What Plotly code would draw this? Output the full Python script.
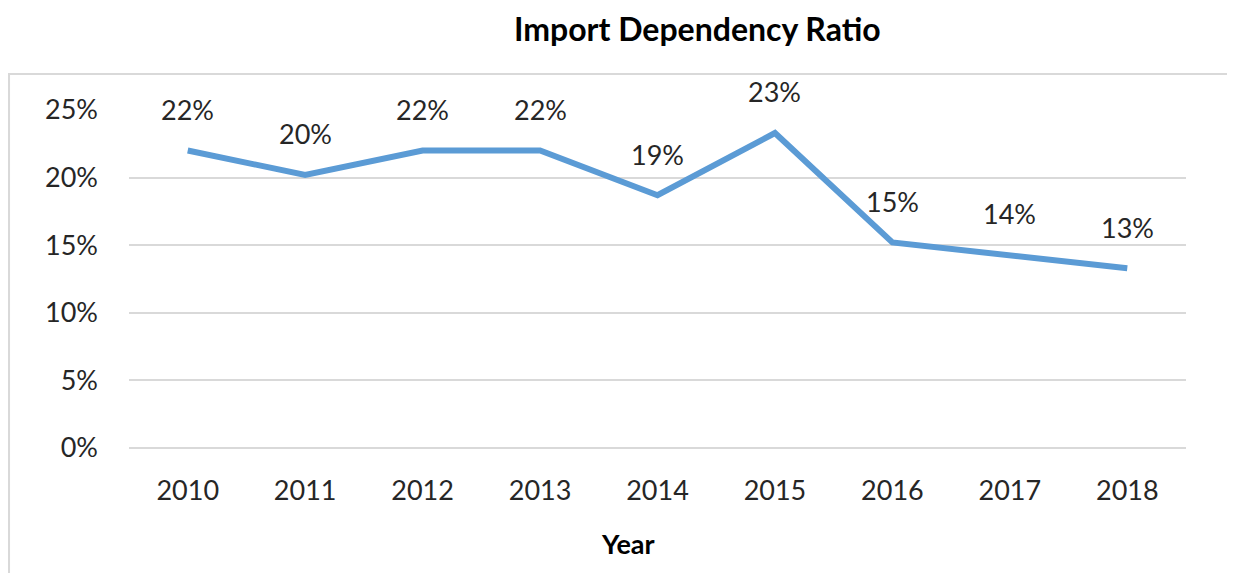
import plotly.graph_objects as go

years = ["2010", "2011", "2012", "2013", "2014", "2015", "2016", "2017", "2018"]
ratio = [0.220, 0.202, 0.220, 0.220, 0.187, 0.233, 0.152, 0.143, 0.133]
labels = ["22%", "20%", "22%", "22%", "19%", "23%", "15%", "14%", "13%"]
yticks = [0, 0.05, 0.10, 0.15, 0.20, 0.25]
ytick_text = ["0%", "5%", "10%", "15%", "20%", "25%"]

FONT = "Lato"
fig = go.Figure()
fig.add_trace(go.Scatter(
    x=years, y=ratio, mode="lines",
    line=dict(color="#5B9BD5", width=6),
    hoverinfo="skip",
))

for i, (y, t) in enumerate(zip(ratio, labels)):
    fig.add_annotation(x=i, y=y, text=t, showarrow=False, yshift=41,
                       yanchor="middle",
                       font=dict(family=FONT, size=27, color="#262626"))

fig.add_annotation(xref="paper", yref="paper", x=0.538, y=1.0, yshift=82,
                   yanchor="middle",
                   text="<b>Import Dependency Ratio</b>", showarrow=False,
                   font=dict(family=FONT, size=32, color="#000000"))
fig.add_annotation(xref="paper", yref="paper", x=0.472, y=0, yshift=-95,
                   yanchor="middle",
                   text="<b>Year</b>", showarrow=False,
                   font=dict(family=FONT, size=27, color="#000000"))

fig.add_shape(type="rect", xref="paper", yref="paper",
              x0=-0.1135, x1=1.0435, y0=-0.40, y1=1.1065,
              line=dict(color="#D9D9D9", width=2), fillcolor="rgba(0,0,0,0)", layer="below")

fig.update_layout(
    width=1235, height=573,
    margin=dict(l=121, r=57, t=102, b=133),
    paper_bgcolor="white", plot_bgcolor="white",
    showlegend=False,
    font=dict(family=FONT, size=27, color="#262626"),
)
fig.update_xaxes(type="category", range=[-0.5, 8.5], automargin=False,
                 showgrid=False, showline=False, zeroline=False,
                 ticks="", ticklabelstandoff=24,
                 tickfont=dict(family=FONT, size=27, color="#262626"))
fig.update_yaxes(range=[0, 0.25], tickvals=yticks, ticktext=ytick_text, automargin=False,
                 showgrid=True, gridcolor="#D9D9D9", gridwidth=2,
                 zeroline=True, zerolinecolor="#D9D9D9", zerolinewidth=2,
                 showline=False, ticks="", ticklabelstandoff=30,
                 tickfont=dict(family=FONT, size=27, color="#262626"))

fig.write_html("out.html")
